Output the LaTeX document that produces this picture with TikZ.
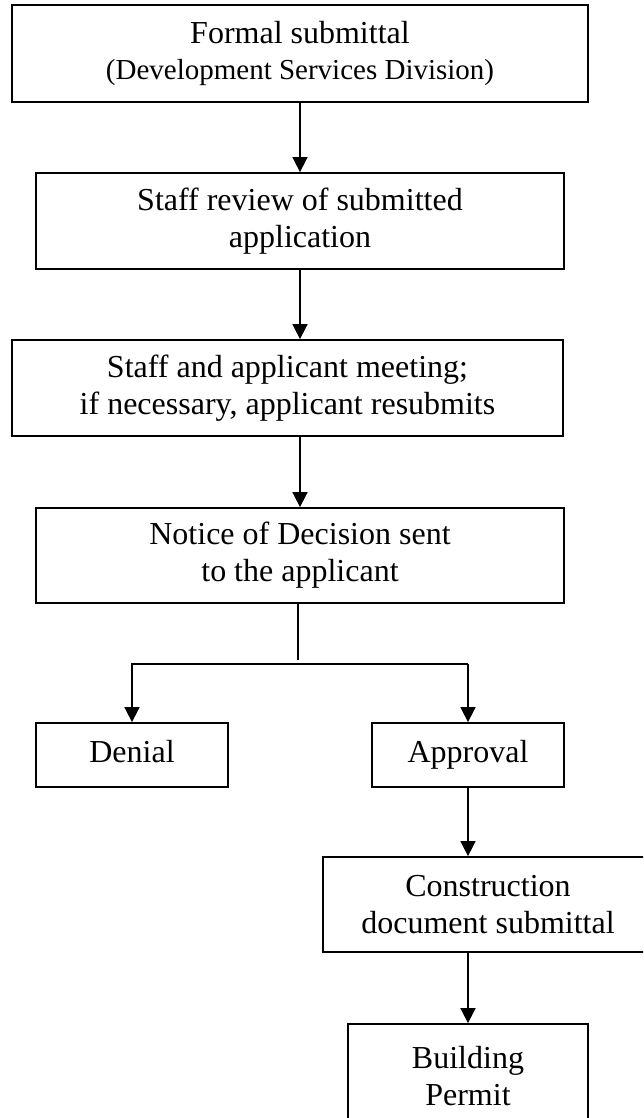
\documentclass[tikz,border=0pt]{standalone}
\usepackage{fontspec}
\setmainfont{Liberation Serif}
\usetikzlibrary{arrows.meta,calc}
\tikzset{
  box/.style={draw=black, line width=1.8pt, rectangle, inner sep=0pt, align=center,
    font=\fontsize{32}{36.8}\selectfont},
  arr/.style={line width=1.7pt, -{Triangle[width=15pt,length=15pt]}},
  conn/.style={line width=1.7pt}
}
\begin{document}
\begin{tikzpicture}[x=1pt,y=-1pt]
\useasboundingbox (0,0) rectangle (643,1118);
\clip (0,0) rectangle (643,1118);
\node[box, minimum width=576pt, minimum height=97pt] (b1) at (300,53.5)
  {Formal submittal\\{\fontsize{29}{36.8}\selectfont (Development Services Division)}};
\node[box, minimum width=528pt, minimum height=96pt] (b2) at (300,221)
  {Staff review of submitted\\application};
\node[box, minimum width=551pt, minimum height=96pt] (b3) at (287.5,388)
  {Staff and applicant meeting;\\if necessary, applicant resubmits};
\node[box, minimum width=528pt, minimum height=95pt] (b4) at (300,555.5)
  {Notice of Decision sent\\to the applicant};
\node[box, minimum width=192pt, minimum height=64pt] (den) at (132,755) {\strut Denial};
\node[box, minimum width=192pt, minimum height=64pt] (app) at (468,755) {\strut Approval};
\node[box, minimum width=330pt, minimum height=95pt] (con) at (488,904.5)
  {Construction\\document submittal};
\node[box, minimum width=240pt, minimum height=104pt] (bp) at (468,1076)
  {Building\\Permit};
\coordinate (split) at (298,660);
\coordinate (hr) at (468,664);
\draw[arr] (b1.south) -- (b2.north);
\draw[arr] (b2.south) -- (b2.south |- b3.north);
\draw[arr] (b4.north |- b3.south) -- (b4.north);
\draw[conn] (b4.south -| split) -- (split);
\draw[arr] (hr) -| (den.north);
\draw[arr] (hr) -- (app.north);
\draw[arr] (app.south) -- (app.south |- con.north);
\draw[arr] (bp.north |- con.south) -- (bp.north);
\end{tikzpicture}
\end{document}
